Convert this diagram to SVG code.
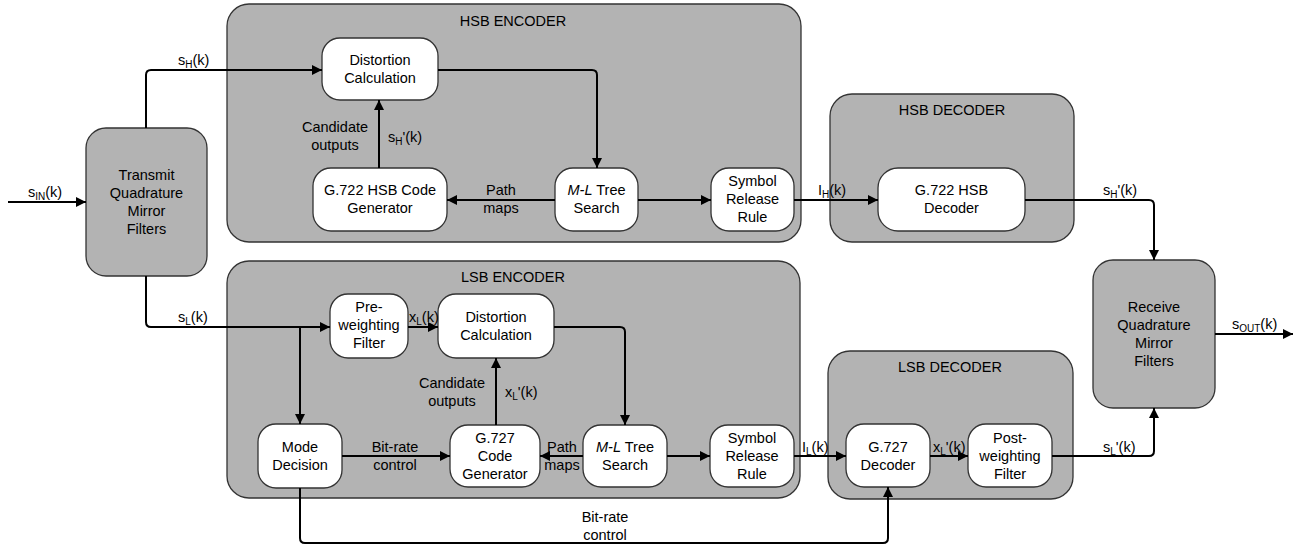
<svg xmlns="http://www.w3.org/2000/svg" width="1307" height="548" viewBox="0 0 1307 548">
<style>
text{font-family:"Liberation Sans",Arial,sans-serif;font-size:14.5px;fill:#000}
.c{text-anchor:middle}
.grp{fill:#b3b3b3;stroke:#333;stroke-width:1.3}
.nd{fill:#fff;stroke:#333;stroke-width:1.3}
.ln{fill:none;stroke:#000;stroke-width:2;marker-end:url(#ah)}
.sub{font-size:10px}
</style>
<defs>
<marker id="ah" markerUnits="userSpaceOnUse" markerWidth="10" markerHeight="10" refX="10" refY="5" orient="auto">
<path d="M0,0 L10,5 L0,10 z" fill="#000"/>
</marker>
</defs>
<rect width="1307" height="548" fill="#fff"/>

<g id="hsb-encoder"><rect class="grp" x="227" y="4" width="574" height="238" rx="22"/><text class="c" x="513" y="26">HSB ENCODER</text></g>
<g id="hsb-decoder"><rect class="grp" x="830" y="94" width="244" height="148" rx="22"/><text class="c" x="952" y="115">HSB DECODER</text></g>
<g id="lsb-encoder"><rect class="grp" x="227" y="261" width="573" height="237" rx="22"/><text class="c" x="513" y="282">LSB ENCODER</text></g>
<g id="lsb-decoder"><rect class="grp" x="828" y="351" width="245" height="148" rx="22"/><text class="c" x="950" y="372">LSB DECODER</text></g>

<g id="tqmf"><rect class="grp" x="86" y="128" width="121" height="148" rx="20"/><text class="c" x="146.5" y="180">Transmit</text><text class="c" x="146.5" y="198">Quadrature</text><text class="c" x="146.5" y="216">Mirror</text><text class="c" x="146.5" y="234">Filters</text></g>
<g id="rqmf"><rect class="grp" x="1093" y="260" width="122" height="148" rx="20"/><text class="c" x="1154" y="312">Receive</text><text class="c" x="1154" y="330">Quadrature</text><text class="c" x="1154" y="348">Mirror</text><text class="c" x="1154" y="366">Filters</text></g>

<g id="hsb-dist"><rect class="nd" x="322" y="38" width="116" height="62" rx="18"/><text class="c" x="380" y="65">Distortion</text><text class="c" x="380" y="83">Calculation</text></g>
<g id="hsb-gen"><rect class="nd" x="313" y="168" width="134" height="63" rx="18"/><text class="c" x="380" y="195">G.722 HSB Code</text><text class="c" x="380" y="213">Generator</text></g>
<g id="hsb-ml"><rect class="nd" x="555" y="168" width="83" height="63" rx="18"/><text class="c" x="596.5" y="195"><tspan font-style="italic">M-L</tspan> Tree</text><text class="c" x="596.5" y="213">Search</text></g>
<g id="hsb-srr"><rect class="nd" x="711" y="168" width="83" height="63" rx="18"/><text class="c" x="752.5" y="186">Symbol</text><text class="c" x="752.5" y="204">Release</text><text class="c" x="752.5" y="222">Rule</text></g>
<g id="hsb-dec"><rect class="nd" x="878" y="168" width="147" height="63" rx="20"/><text class="c" x="951.5" y="195">G.722 HSB</text><text class="c" x="951.5" y="213">Decoder</text></g>

<g id="lsb-pre"><rect class="nd" x="330" y="294" width="78" height="64" rx="18"/><text class="c" x="369" y="312">Pre-</text><text class="c" x="369" y="330">weighting</text><text class="c" x="369" y="348">Filter</text></g>
<g id="lsb-dist"><rect class="nd" x="438" y="294" width="116" height="64" rx="18"/><text class="c" x="496" y="322">Distortion</text><text class="c" x="496" y="340">Calculation</text></g>
<g id="lsb-mode"><rect class="nd" x="258" y="424" width="84" height="64" rx="18"/><text class="c" x="300" y="452">Mode</text><text class="c" x="300" y="470">Decision</text></g>
<g id="lsb-gen"><rect class="nd" x="450" y="425" width="90" height="62" rx="18"/><text class="c" x="495" y="443">G.727</text><text class="c" x="495" y="461">Code</text><text class="c" x="495" y="479">Generator</text></g>
<g id="lsb-ml"><rect class="nd" x="583" y="425" width="84" height="62" rx="18"/><text class="c" x="625" y="452"><tspan font-style="italic">M-L</tspan> Tree</text><text class="c" x="625" y="470">Search</text></g>
<g id="lsb-srr"><rect class="nd" x="710" y="425" width="84" height="62" rx="18"/><text class="c" x="752" y="443">Symbol</text><text class="c" x="752" y="461">Release</text><text class="c" x="752" y="479">Rule</text></g>
<g id="lsb-dec"><rect class="nd" x="846" y="424" width="84" height="63" rx="18"/><text class="c" x="888" y="452">G.727</text><text class="c" x="888" y="470">Decoder</text></g>
<g id="lsb-post"><rect class="nd" x="968" y="424" width="84" height="63" rx="18"/><text class="c" x="1010" y="443">Post-</text><text class="c" x="1010" y="461">weighting</text><text class="c" x="1010" y="479">Filter</text></g>

<g id="connectors">
<path class="ln" d="M8,202 H86"/>
<path class="ln" d="M146,128 V75 Q146,70 151,70 H322"/>
<path class="ln" d="M379,168 V100"/>
<path class="ln" d="M438,70 H592 Q597,70 597,75 V168"/>
<path class="ln" d="M555,200 H447"/>
<path class="ln" d="M638,200 H711"/>
<path class="ln" d="M794,200 H878"/>
<path class="ln" d="M1025,200 H1149 Q1154,200 1154,205 V260"/>
<path class="ln" d="M1215,334 H1293"/>
<path class="ln" d="M146,276 V322 Q146,327 151,327 H330"/>
<path class="ln" d="M300,327 V424"/>
<path class="ln" d="M408,327 H438"/>
<path class="ln" d="M554,327 H620 Q625,327 625,332 V425"/>
<path class="ln" d="M496,425 V358"/>
<path class="ln" d="M583,456 H540"/>
<path class="ln" d="M667,456 H710"/>
<path class="ln" d="M794,456 H846"/>
<path class="ln" d="M342,456 H450"/>
<path class="ln" d="M300,488 V538 Q300,543 305,543 H883 Q888,543 888,538 V487"/>
<path class="ln" d="M930,456 H968"/>
<path class="ln" d="M1052,456 H1149 Q1154,456 1154,451 V408"/>
</g>

<g id="labels">
<text x="28" y="197">s<tspan class="sub" dy="3">IN</tspan><tspan dy="-3">(k)</tspan></text>
<text x="178" y="65">s<tspan class="sub" dy="3">H</tspan><tspan dy="-3">(k)</tspan></text>
<text x="388" y="142">s<tspan class="sub" dy="3">H</tspan><tspan dy="-3">'(k)</tspan></text>
<text class="c" x="335" y="132">Candidate</text><text class="c" x="335" y="150">outputs</text>
<text class="c" x="501" y="195">Path</text><text class="c" x="501" y="213">maps</text>
<text x="818" y="195">I<tspan class="sub" dy="3">H</tspan><tspan dy="-3">(k)</tspan></text>
<text x="1103" y="195">s<tspan class="sub" dy="3">H</tspan><tspan dy="-3">'(k)</tspan></text>
<text x="1232" y="329">s<tspan class="sub" dy="3">OUT</tspan><tspan dy="-3">(k)</tspan></text>
<text x="178" y="322">s<tspan class="sub" dy="3">L</tspan><tspan dy="-3">(k)</tspan></text>
<text x="409" y="322">x<tspan class="sub" dy="3">L</tspan><tspan dy="-3">(k)</tspan></text>
<text x="505" y="397">x<tspan class="sub" dy="3">L</tspan><tspan dy="-3">'(k)</tspan></text>
<text class="c" x="452" y="388">Candidate</text><text class="c" x="452" y="406">outputs</text>
<text class="c" x="562" y="452">Path</text><text class="c" x="562" y="470">maps</text>
<text class="c" x="395" y="452">Bit-rate</text><text class="c" x="395" y="470">control</text>
<text x="802" y="452">I<tspan class="sub" dy="3">L</tspan><tspan dy="-3">(k)</tspan></text>
<text x="933" y="452">x<tspan class="sub" dy="3">L</tspan><tspan dy="-3">'(k)</tspan></text>
<text x="1103" y="452">s<tspan class="sub" dy="3">L</tspan><tspan dy="-3">'(k)</tspan></text>
<text class="c" x="605" y="522">Bit-rate</text><text class="c" x="605" y="540">control</text>
</g>
</svg>
